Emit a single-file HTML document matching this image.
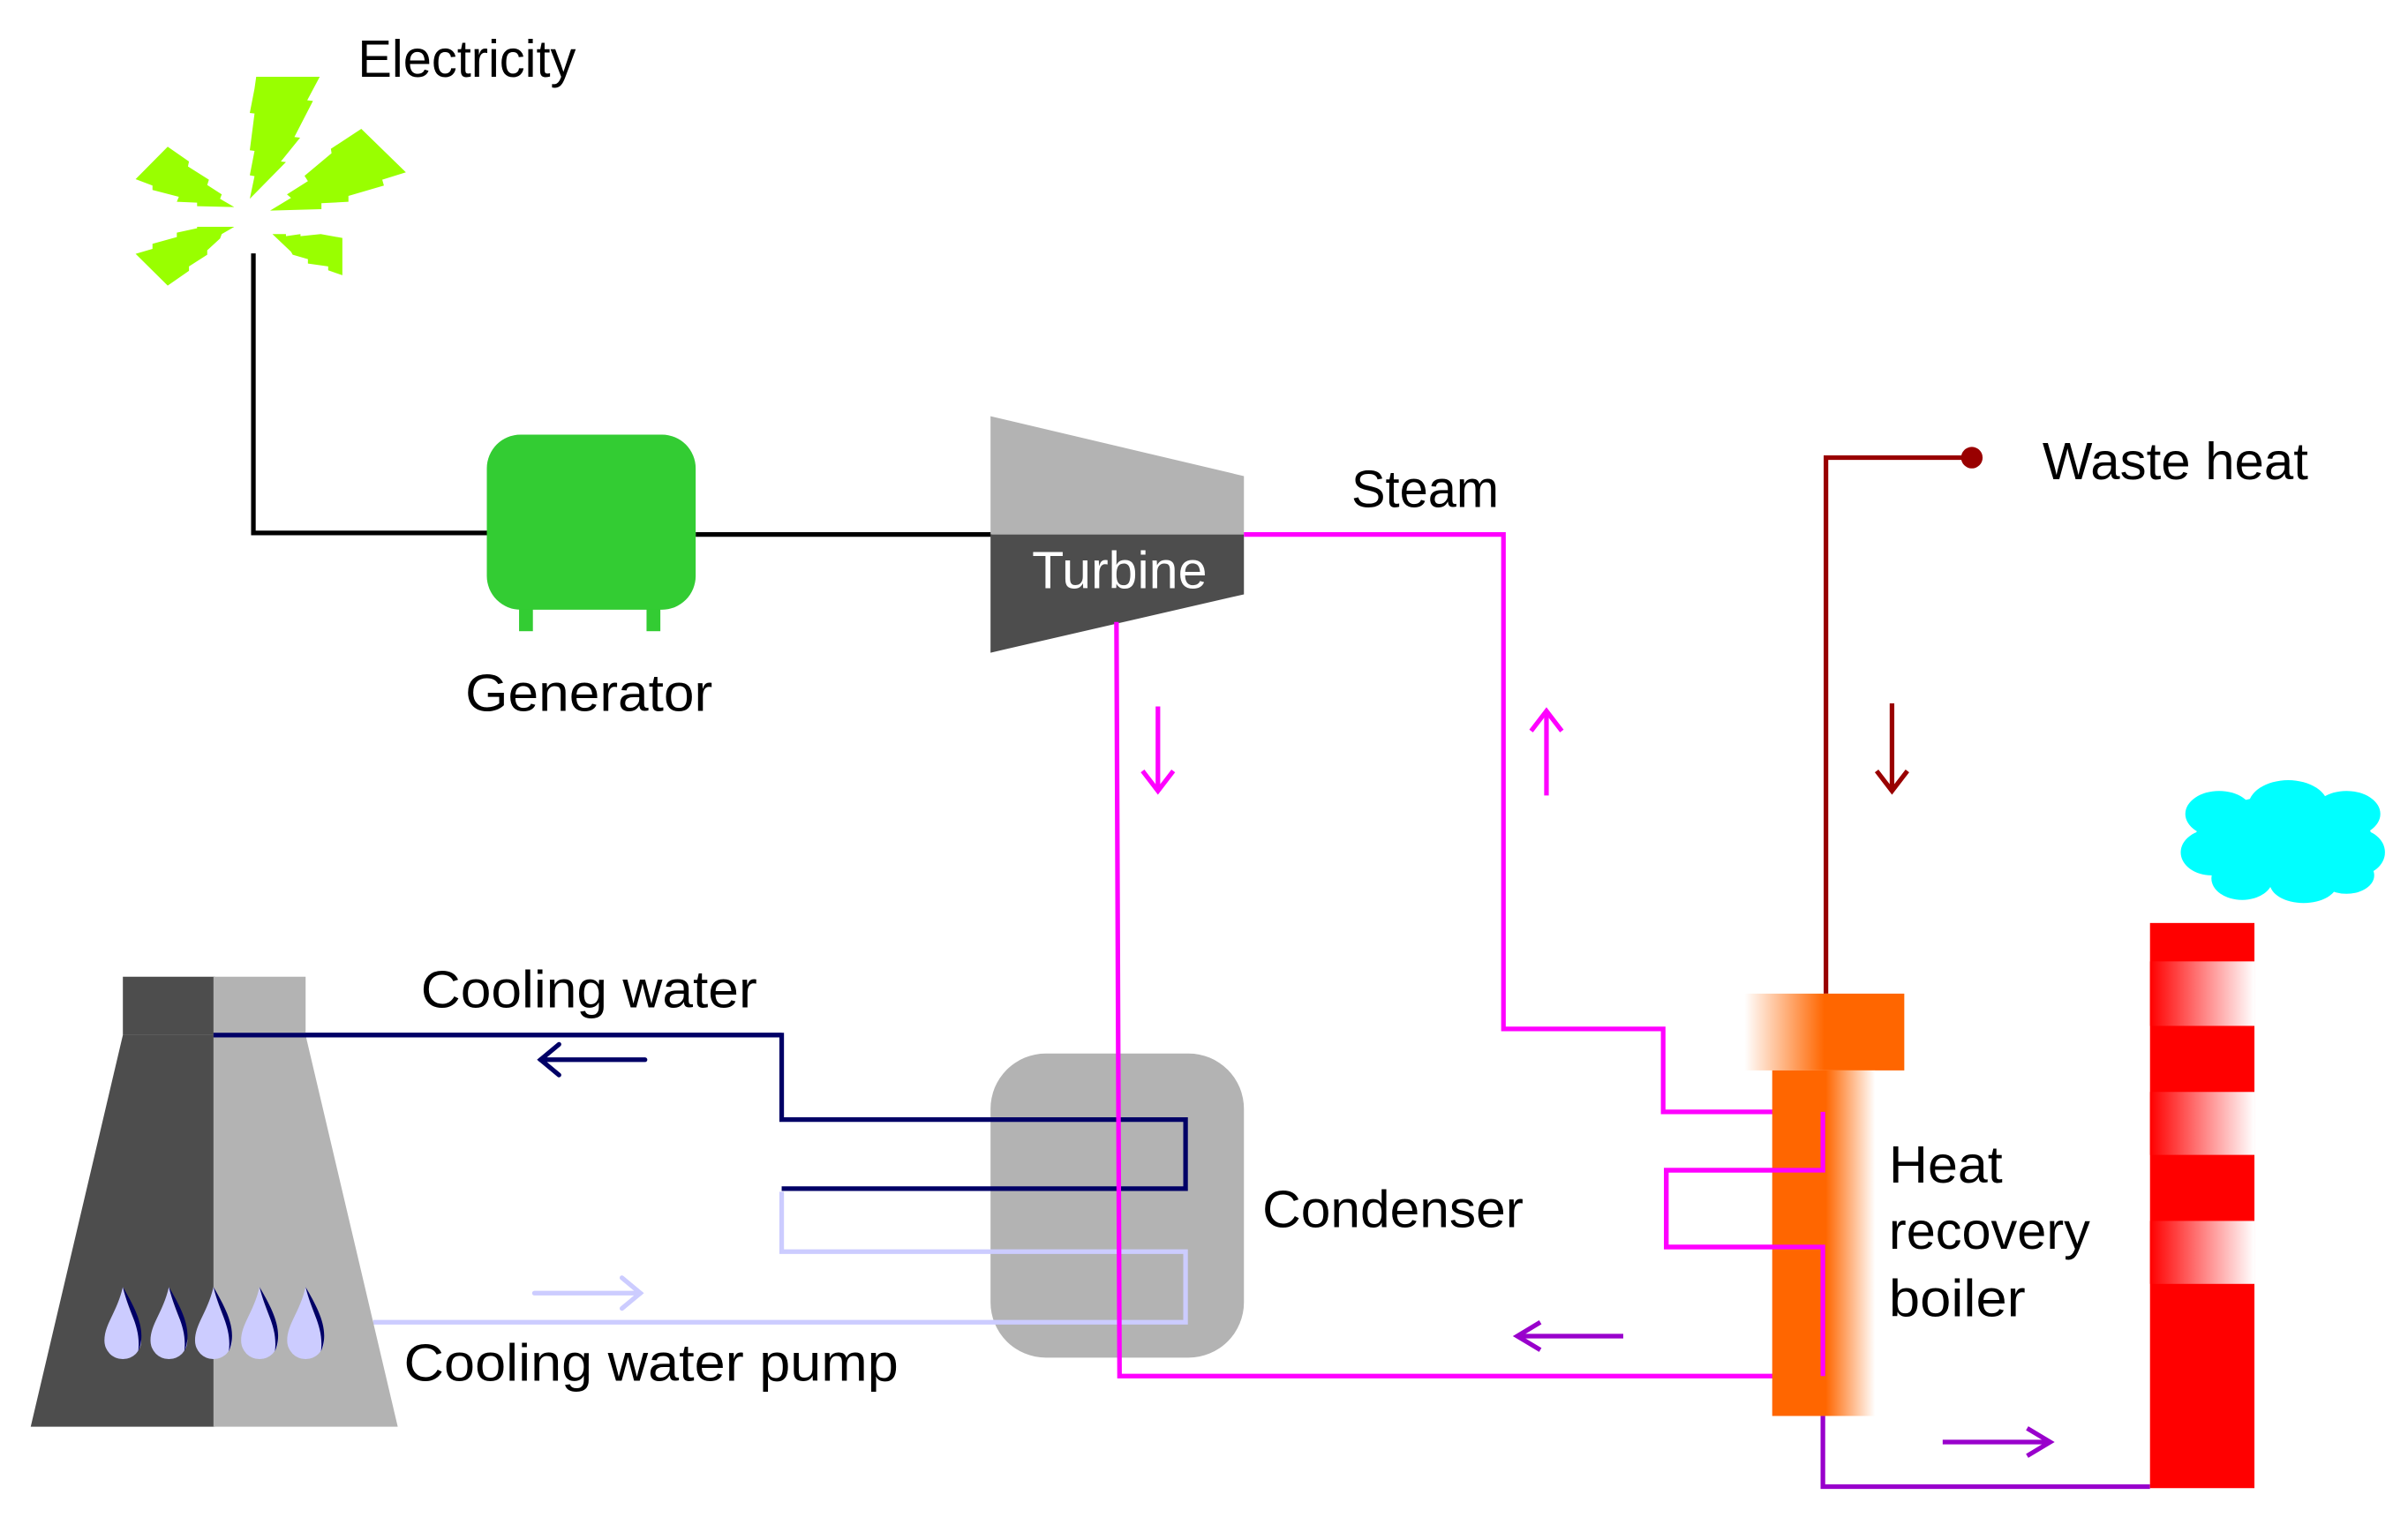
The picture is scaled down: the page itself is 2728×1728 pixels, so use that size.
<!DOCTYPE html>
<html><head><meta charset="utf-8"><style>html,body{margin:0;padding:0;background:#fff}svg{display:block}</style></head>
<body>
<svg width="2728" height="1728" viewBox="0 0 1568 993" preserveAspectRatio="none" xmlns="http://www.w3.org/2000/svg" font-family="'Liberation Sans', sans-serif">
<defs>
<linearGradient id="gTop" x1="0" x2="1" y1="0" y2="0"><stop offset="0" stop-color="#fff"/><stop offset="0.5" stop-color="#ff6600"/><stop offset="1" stop-color="#ff6600"/></linearGradient>
<linearGradient id="gCol" x1="0" x2="1" y1="0" y2="0"><stop offset="0" stop-color="#ff6600"/><stop offset="0.52" stop-color="#ff6600"/><stop offset="1" stop-color="#fff"/></linearGradient>
<linearGradient id="gBand" x1="0" x2="1" y1="0" y2="0"><stop offset="0" stop-color="#ff0000"/><stop offset="1" stop-color="#fff"/></linearGradient>
</defs>
<!-- lightning -->
<g transform="translate(57.5 0.2) scale(0.22 0.1915)" fill="#99ff00">
<polygon points="497,260 685,260 648,340 665,342 610,465 627,467 570,548 585,550 478,675 492,598 478,595 492,512 478,510 492,385 478,383 492,300"/>
<polygon points="808,437 940,585 870,610 875,630 770,665 770,685 690,690 690,710 538,715 600,672 588,660 650,615 640,597 720,520 718,505"/>
<polygon points="235,498 298,548 295,565 357,610 352,628 395,660 390,675 432,703 322,700 322,688 262,685 268,668 190,645 190,630 140,608"/>
<polygon points="432,770 395,795 390,810 352,850 352,865 298,905 298,920 235,970 140,862 190,845 190,828 262,805 262,790 322,775 322,770"/>
<polygon points="545,795 585,795 585,802 628,795 628,802 688,795 752,808 752,935 710,918 710,905 650,895 650,880 605,865 600,855"/>
</g>
<text x="233" y="50" font-size="34" textLength="142" lengthAdjust="spacingAndGlyphs">Electricity</text>
<polyline points="165,165 165,347 318,347" fill="none" stroke="#000" stroke-width="3"/>
<line x1="453" y1="348" x2="646" y2="348" stroke="#000" stroke-width="3"/>
<!-- generator -->
<rect x="338" y="390" width="9" height="21" fill="#33cc33"/><rect x="421" y="390" width="9" height="21" fill="#33cc33"/>
<rect x="317" y="283" width="136" height="114" rx="22" fill="#33cc33"/>
<text x="303" y="463" font-size="34" textLength="161" lengthAdjust="spacingAndGlyphs">Generator</text>
<!-- turbine -->
<polygon points="645,271 810,310 810,348 645,348" fill="#b3b3b3"/>
<polygon points="645,348 810,348 810,387 645,425" fill="#4d4d4d"/>
<text x="672" y="383" font-size="34" fill="#fff" textLength="114" lengthAdjust="spacingAndGlyphs">Turbine</text>
<text x="880" y="330" font-size="34" textLength="96" lengthAdjust="spacingAndGlyphs">Steam</text>
<!-- condenser -->
<rect x="645" y="686" width="165" height="198" rx="36" fill="#b3b3b3"/>
<!-- cooling water lines -->
<polyline points="139,674 509,674 509,729 772,729 772,774 509,774" fill="none" stroke="#000066" stroke-width="3"/>
<polyline points="509,776 509,815 772,815 772,861 243,861" fill="none" stroke="#ccccff" stroke-width="3"/>
<g stroke="#000066" stroke-width="3" fill="none" stroke-linecap="round"><line x1="420" y1="690" x2="352" y2="690"/><polyline points="364,680 352,690 364,700"/></g>
<g stroke="#ccccff" stroke-width="3" fill="none" stroke-linecap="round"><line x1="348" y1="842" x2="417" y2="842"/><polyline points="405,832 417,842 405,852"/></g>
<!-- steam lines -->
<polyline points="810,348 979,348 979,670 1083,670 1083,724 1187,724 1187,762 1085,762 1085,812 1187,812 1187,896 729,896 727,405" fill="none" stroke="#ff00ff" stroke-width="3"/>
<g stroke="#ff00ff" stroke-width="3" fill="none"><line x1="754" y1="460" x2="754" y2="514"/><polyline points="744,502 754,515 764,502"/><line x1="1007" y1="518" x2="1007" y2="464"/><polyline points="997,476 1007,463 1017,476"/></g>
<!-- waste heat -->
<polyline points="1189,647 1189,298 1284,298" fill="none" stroke="#990000" stroke-width="3"/>
<circle cx="1284" cy="298" r="7" fill="#990000"/>
<g stroke="#990000" stroke-width="3" fill="none"><line x1="1232" y1="458" x2="1232" y2="514"/><polyline points="1222,502 1232,515 1242,502"/></g>
<text x="1330" y="312" font-size="34" textLength="173" lengthAdjust="spacingAndGlyphs">Waste heat</text>
<!-- HRB -->
<rect x="1136" y="647" width="104" height="50" fill="url(#gTop)"/>
<rect x="1154" y="697" width="67" height="225" fill="url(#gCol)"/>
<polyline points="1187,724 1187,762 1085,762 1085,812 1187,812 1187,896" fill="none" stroke="#ff00ff" stroke-width="3"/>
<text x="1230" y="770" font-size="34" textLength="74" lengthAdjust="spacingAndGlyphs">Heat</text>
<text x="1230" y="813" font-size="34" textLength="131" lengthAdjust="spacingAndGlyphs">recovery</text>
<text x="1230" y="857" font-size="34" textLength="89" lengthAdjust="spacingAndGlyphs">boiler</text>
<!-- purple -->
<polyline points="1187,922 1187,968 1400,968" fill="none" stroke="#9900cc" stroke-width="3"/>
<g stroke="#9900cc" stroke-width="3" fill="none"><line x1="1265" y1="939" x2="1334" y2="939"/><polyline points="1320,930 1335,939 1320,948"/><line x1="1057" y1="870" x2="989" y2="870"/><polyline points="1003,861 988,870 1003,879"/></g>
<!-- stack -->
<rect x="1400" y="601" width="68" height="368" fill="#ff0000"/>
<rect x="1400" y="626" width="68" height="42" fill="url(#gBand)"/>
<rect x="1400" y="711" width="68" height="41" fill="url(#gBand)"/>
<rect x="1400" y="795" width="68" height="41" fill="url(#gBand)"/>
<!-- cloud -->
<g fill="#00ffff">
<ellipse cx="1487" cy="548" rx="58" ry="30"/>
<ellipse cx="1445" cy="530" rx="22" ry="15"/><ellipse cx="1490" cy="525" rx="26" ry="17"/><ellipse cx="1528" cy="530" rx="22" ry="15"/>
<ellipse cx="1440" cy="555" rx="20" ry="15"/><ellipse cx="1535" cy="555" rx="18" ry="15"/>
<ellipse cx="1460" cy="572" rx="20" ry="14"/><ellipse cx="1500" cy="575" rx="22" ry="13"/><ellipse cx="1528" cy="570" rx="18" ry="12"/>
</g>
<!-- cooling tower -->
<rect x="80" y="636" width="60" height="38" fill="#4d4d4d"/>
<rect x="139" y="636" width="60" height="38" fill="#b3b3b3"/>
<polygon points="80,674 140,674 140,929 20,929" fill="#4d4d4d"/>
<polygon points="139,674 199,674 259,929 139,929" fill="#b3b3b3"/>
<line x1="139" y1="674" x2="509" y2="674" stroke="#000066" stroke-width="3"/>
<g>
<path d="M80,838 C84,855 92,868 92,873 A12,12 0 0 1 68,873 C68,862 76,855 80,838 Z" fill="#ccccff"/>
<path d="M80,838 C84,855 92,864 90,880 C96,866 88,852 80,838 Z" fill="#000066"/>
<path d="M110,838 C114,855 122,868 122,873 A12,12 0 0 1 98,873 C98,862 106,855 110,838 Z" fill="#ccccff"/>
<path d="M110,838 C114,855 122,864 120,880 C126,866 118,852 110,838 Z" fill="#000066"/>
<path d="M139,838 C143,855 151,868 151,873 A12,12 0 0 1 127,873 C127,862 135,855 139,838 Z" fill="#ccccff"/>
<path d="M139,838 C143,855 151,864 149,880 C155,866 147,852 139,838 Z" fill="#000066"/>
<path d="M169,838 C173,855 181,868 181,873 A12,12 0 0 1 157,873 C157,862 165,855 169,838 Z" fill="#ccccff"/>
<path d="M169,838 C173,855 181,864 179,880 C185,866 177,852 169,838 Z" fill="#000066"/>
<path d="M199,838 C203,855 211,868 211,873 A12,12 0 0 1 187,873 C187,862 195,855 199,838 Z" fill="#ccccff"/>
<path d="M199,838 C203,855 211,864 209,880 C215,866 207,852 199,838 Z" fill="#000066"/>
</g>
<text x="274" y="656" font-size="34" textLength="219" lengthAdjust="spacingAndGlyphs">Cooling water</text>
<text x="822" y="799" font-size="34" textLength="170" lengthAdjust="spacingAndGlyphs">Condenser</text>
<text x="263" y="899" font-size="34" textLength="322" lengthAdjust="spacingAndGlyphs">Cooling water pump</text>
</svg>
</body></html>
